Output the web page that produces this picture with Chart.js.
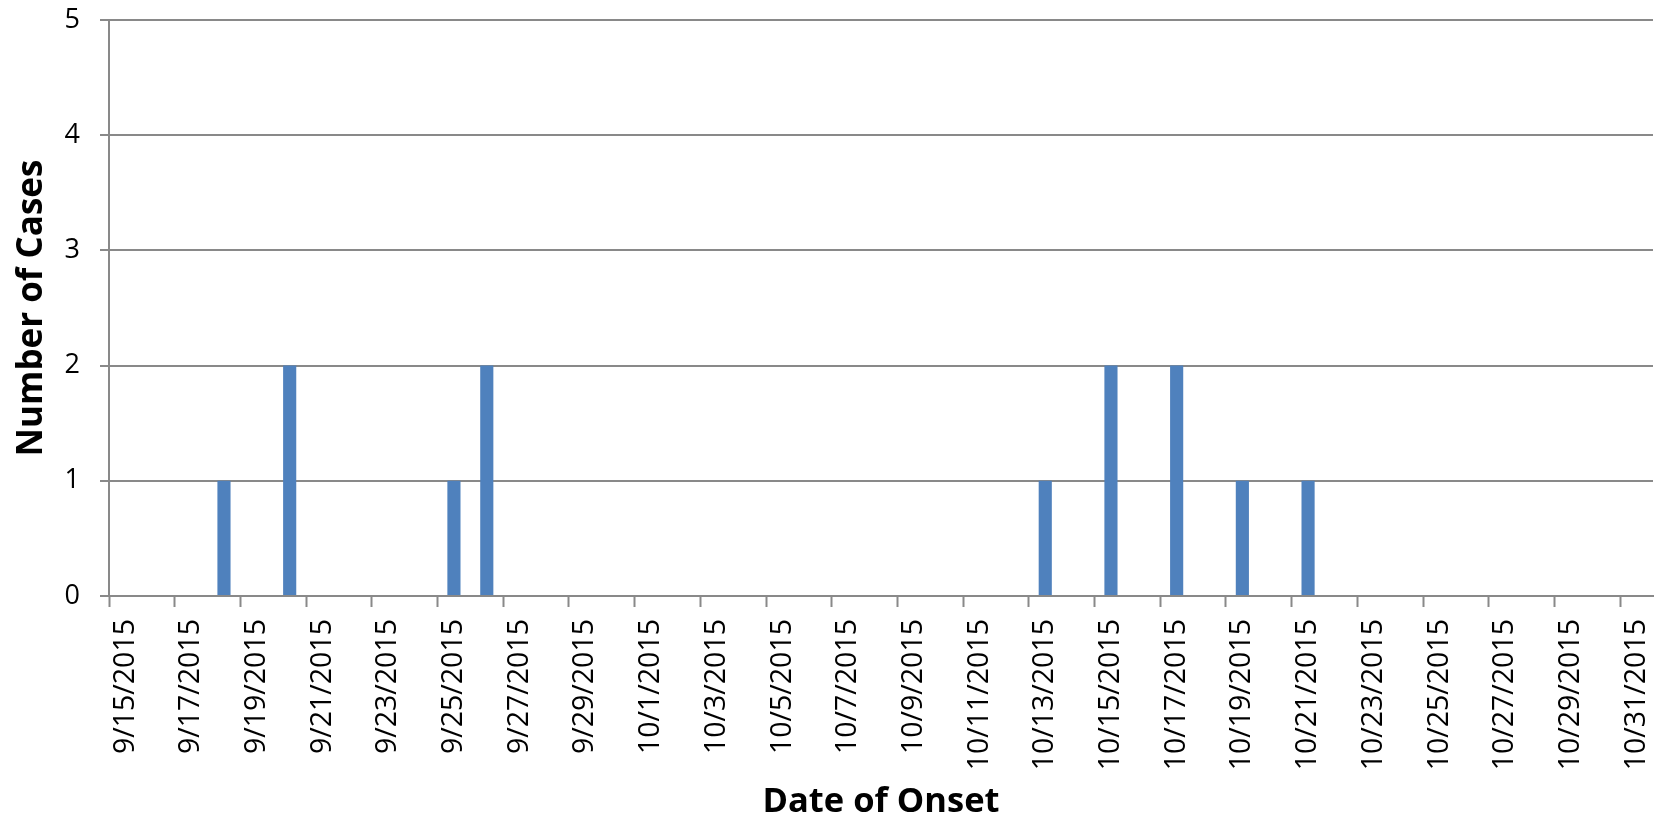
<!DOCTYPE html>
<html>
<head>
<meta charset="utf-8">
<script src="https://cdn.jsdelivr.net/npm/chart.js@4/dist/chart.umd.min.js"></script>
<style>
  html, body { margin: 0; padding: 0; background: #ffffff; }
  #wrap { width: 1659px; height: 823px; }
</style>
</head>
<body>
<div id="wrap"><canvas id="chart" width="1659" height="823"></canvas></div>
<script>
// Onset dates, one category per day
const onsetDates = [
  '9/15/2015', '9/16/2015', '9/17/2015', '9/18/2015', '9/19/2015', '9/20/2015',
  '9/21/2015', '9/22/2015', '9/23/2015', '9/24/2015', '9/25/2015', '9/26/2015',
  '9/27/2015', '9/28/2015', '9/29/2015', '9/30/2015', '10/1/2015', '10/2/2015',
  '10/3/2015', '10/4/2015', '10/5/2015', '10/6/2015', '10/7/2015', '10/8/2015',
  '10/9/2015', '10/10/2015', '10/11/2015', '10/12/2015', '10/13/2015', '10/14/2015',
  '10/15/2015', '10/16/2015', '10/17/2015', '10/18/2015', '10/19/2015', '10/20/2015',
  '10/21/2015', '10/22/2015', '10/23/2015', '10/24/2015', '10/25/2015', '10/26/2015',
  '10/27/2015', '10/28/2015', '10/29/2015', '10/30/2015', '10/31/2015'
];

// Number of cases per onset date
const caseCounts = [
  0, 0, 0, 1, 0, 2,
  0, 0, 0, 0, 1, 2,
  0, 0, 0, 0, 0, 0,
  0, 0, 0, 0, 0, 0,
  0, 0, 0, 0, 1, 0,
  2, 0, 2, 0, 1, 0,
  1, 0, 0, 0, 0, 0,
  0, 0, 0, 0, 0
];

// Value axis ticks
const yTickValues = [0, 1, 2, 3, 4, 5];

const axisGray = '#898989';
const barBlue = '#4f81bd';

new Chart(document.getElementById('chart'), {
  type: 'bar',
  data: {
    labels: onsetDates,
    datasets: [{
      label: 'Cases',
      data: caseCounts,
      backgroundColor: barBlue,
      borderWidth: 0,
      categoryPercentage: 1.0,
      barPercentage: 0.4
    }]
  },
  options: {
    responsive: false,
    animation: false,
    devicePixelRatio: 1,
    layout: { padding: { top: 20, right: 6, bottom: 0, left: 0 } },
    plugins: {
      legend: { display: false },
      tooltip: { enabled: false }
    },
    scales: {
      x: {
        type: 'category',
        offset: true,
        border: { display: true, color: axisGray, width: 2 },
        grid: {
          offset: true,
          drawOnChartArea: false,
          drawTicks: true,
          tickLength: 11,
          tickWidth: 2,
          tickColor: (ctx) => (ctx.index !== undefined && ctx.index % 2 === 0) ? axisGray : 'rgba(0,0,0,0)'
        },
        ticks: {
          autoSkip: false,
          minRotation: 90,
          maxRotation: 90,
          padding: 12,
          color: '#000000',
          font: { family: '"Open Sans"', size: 28.5 },
          callback: function (value, index) {
            return index % 2 === 0 ? this.getLabelForValue(value) : '';
          }
        },
        title: {
          display: true,
          text: 'Date of Onset',
          color: '#000000',
          font: { family: '"Open Sans"', size: 34.5, weight: 'bold' },
          padding: { top: 0, bottom: 0 }
        },
        afterFit: (scale) => {
          scale.height = 227;
          scale.paddingLeft = 0;
          scale.paddingRight = 0;
        }
      },
      y: {
        min: 0,
        max: 5,
        border: { display: true, color: axisGray, width: 2 },
        grid: {
          color: axisGray,
          lineWidth: 2,
          drawTicks: true,
          tickLength: 9
        },
        afterBuildTicks: (scale) => {
          scale.ticks = yTickValues.map(v => ({ value: v }));
        },
        ticks: {
          padding: 20,
          color: '#000000',
          font: { family: '"Open Sans"', size: 27 }
        },
        title: {
          display: true,
          text: 'Number of Cases',
          color: '#000000',
          font: { family: '"Open Sans"', size: 35, weight: 'bold' },
          padding: { top: 11, bottom: 0 }
        },
        afterFit: (scale) => {
          scale.width = 109;
          scale.paddingTop = 0;
          scale.paddingBottom = 0;
        }
      }
    }
  }
});
</script>
</body>
</html>
